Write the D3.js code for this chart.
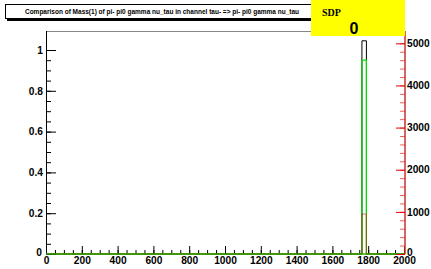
<!DOCTYPE html>
<html>
<head>
<meta charset="utf-8">
<script src="https://cdn.jsdelivr.net/npm/d3@7"></script>
<style>
	body { margin: 0; background: #fff; }
	svg { display: block; }
	.ax text { font-family: "Liberation Sans", Arial, sans-serif; font-weight: bold; font-size: 10.2px; fill: #000; }
</style>
</head>
<body>
<svg id="chart" width="431" height="269"></svg>
<script>
'use strict';

// histogram bin edges (mass, MeV) and contents
var binEdges = [0, 1765, 1790, 2000];
var refCounts = [0, 1.045, 0];    // black, left axis (normalised)
var sdpCounts = [0, 4600, 0];     // green, right axis
var redCounts = [0, 950, 0];      // red, right axis

var xTicks = [0, 200, 400, 600, 800, 1000, 1200, 1400, 1600, 1800, 2000];
var yLeftTicks = [0, 0.2, 0.4, 0.6, 0.8, 1];
var yRightTicks = [0, 1000, 2000, 3000, 4000, 5000];

var titleText = 'Comparison of Mass(1) of pi- pi0 gamma nu_tau in channel tau- => pi- pi0 gamma nu_tau';
var statLabel = 'SDP';
var statValue = '0';

var frame = { left: 46, right: 405, top: 31, bottom: 254 };

var svg = d3.select('#chart');

var x = d3.scaleLinear().domain([0, 2000]).range([frame.left, 404]);
var yL = d3.scaleLinear().domain([0, 1]).range([frame.bottom, 50]);
var yR = d3.scaleLinear().domain([0, 5000]).range([frame.bottom, 43.3]);
var intFmt = d3.format('d');

// frame top line (grey)
svg.append('line')
	.attr('x1', frame.left).attr('x2', frame.right)
	.attr('y1', frame.top + 0.5).attr('y2', frame.top + 0.5)
	.attr('stroke', '#888').attr('stroke-width', 1);

function histPath(counts, scale) {
	var p = d3.path();
	p.moveTo(x(binEdges[0]), scale(0));
	counts.forEach(function(c, i) {
		p.lineTo(x(binEdges[i]), scale(c));
		p.lineTo(x(binEdges[i + 1]), scale(c));
	});
	p.lineTo(x(binEdges[binEdges.length - 1]), scale(0));
	return p.toString();
}

var hists = svg.append('g');
hists.append('path')
	.attr('d', histPath(refCounts, yL))
	.attr('fill', 'none').attr('stroke', '#000').attr('stroke-width', 1);
hists.append('path')
	.attr('d', histPath(sdpCounts, yR))
	.attr('fill', 'none').attr('stroke', '#00e000').attr('stroke-width', 1.2);
hists.append('path')
	.attr('d', histPath(redCounts, yR))
	.attr('fill', 'none').attr('stroke', '#e00000').attr('stroke-width', 1)
	.attr('stroke-opacity', 0.55);

// left axis: ticks point inward
var minorL = d3.range(0, 1.0001, 0.05);
svg.append('g').attr('class', 'ax')
	.attr('transform', 'translate(' + frame.left + ',0)')
	.call(d3.axisLeft(yL).tickValues(minorL).tickSize(-5).tickSizeOuter(0).tickFormat(''))
	.call(function(g) { g.select('.domain').remove(); });
svg.append('g').attr('class', 'ax')
	.attr('transform', 'translate(' + frame.left + ',0)')
	.call(d3.axisLeft(yL).tickValues(yLeftTicks).tickSize(-10).tickSizeOuter(0).tickPadding(3)
		.tickFormat(function(d) { return d3.format('~g')(d); }))
	.call(function(g) {
		g.select('.domain').attr('d', 'M0.5,' + frame.top + 'V' + frame.bottom).attr('stroke', '#000');
		g.selectAll('.tick').filter(function(d) { return d === 0; })
			.select('text').attr('y', -2).attr('x', -4);
	});

// bottom axis
var minorX = d3.range(0, 2001, 50);
svg.append('g').attr('class', 'ax')
	.attr('transform', 'translate(0,' + frame.bottom + ')')
	.call(d3.axisBottom(x).tickValues(minorX).tickSize(-4).tickSizeOuter(0).tickFormat(''))
	.call(function(g) { g.select('.domain').remove(); });
svg.append('g').attr('class', 'ax')
	.attr('transform', 'translate(0,' + frame.bottom + ')')
	.call(d3.axisBottom(x).tickValues(xTicks).tickSize(-8).tickSizeOuter(0).tickPadding(3).tickFormat(intFmt))
	.call(function(g) { g.select('.domain').remove(); });

// green baseline of the histogram over the axis
svg.append('line')
	.attr('x1', frame.left).attr('x2', frame.right)
	.attr('y1', frame.bottom).attr('y2', frame.bottom)
	.attr('stroke', '#33a000').attr('stroke-width', 1.5);

// right axis (red)
var minorR = d3.range(0, 5001, 200);
svg.append('g').attr('class', 'ax')
	.attr('transform', 'translate(' + frame.right + ',0)')
	.call(d3.axisRight(yR).tickValues(minorR).tickSize(-5).tickSizeOuter(0).tickFormat(''))
	.call(function(g) {
		g.select('.domain').remove();
		g.selectAll('.tick line').attr('stroke', '#f06060');
	});
svg.append('g').attr('class', 'ax')
	.attr('transform', 'translate(' + frame.right + ',0)')
	.call(d3.axisRight(yR).tickValues(yRightTicks).tickSize(-9).tickSizeOuter(0).tickPadding(2).tickFormat(intFmt))
	.call(function(g) {
		g.select('.domain').attr('d', 'M0,' + frame.top + 'V' + frame.bottom)
			.attr('stroke', '#c83030').attr('stroke-width', 1.5);
		g.selectAll('.tick line').attr('stroke', '#e00000');
		g.selectAll('.tick').filter(function(d) { return d === 0; })
			.select('text').attr('y', -2);
	});

// title box with shadow
svg.append('rect').attr('x', 7).attr('y', 6).attr('width', 312).attr('height', 15).attr('fill', '#000');
svg.append('rect').attr('x', 5.5).attr('y', 4.5).attr('width', 311).attr('height', 14)
	.attr('fill', '#fff').attr('stroke', '#000').attr('stroke-width', 1);
svg.append('text')
	.attr('x', 162).attr('y', 14)
	.attr('text-anchor', 'middle')
	.style('font-family', '"Liberation Sans", Arial, sans-serif')
	.style('font-weight', 'bold').style('font-size', '6.5px')
	.text(titleText);

// stat box
svg.append('rect').attr('x', 311).attr('y', 0).attr('width', 94).attr('height', 36).attr('fill', '#ffff00');
svg.append('text')
	.attr('x', 322).attr('y', 16)
	.style('font-family', '"Liberation Serif", "Times New Roman", serif')
	.style('font-weight', 'bold').style('font-size', '10px')
	.text(statLabel);
svg.append('text')
	.attr('x', 354).attr('y', 34)
	.attr('text-anchor', 'middle')
	.style('font-family', '"Liberation Sans", Arial, sans-serif')
	.style('font-weight', 'bold').style('font-size', '16px')
	.text(statValue);
</script>
</body>
</html>
